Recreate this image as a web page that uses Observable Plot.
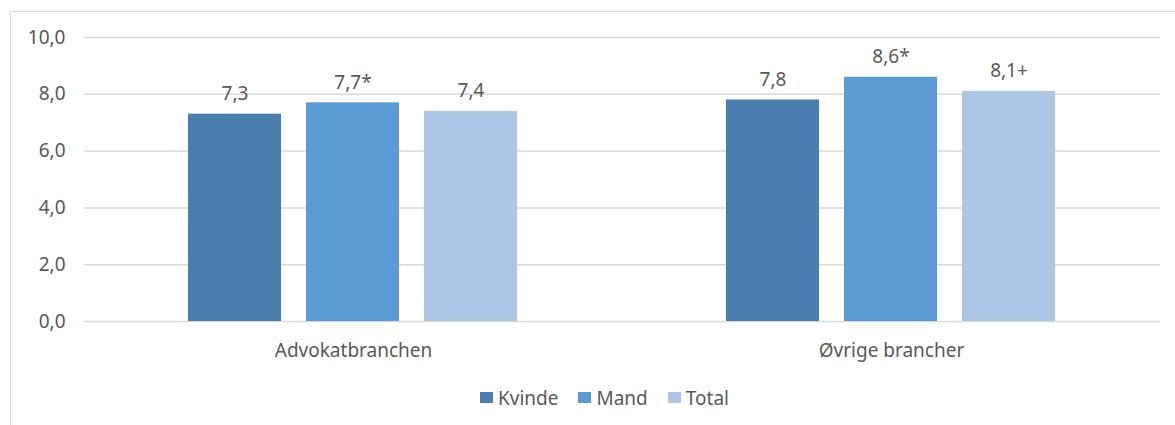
<!DOCTYPE html>
<html>
<head>
<meta charset="utf-8">
<script src="https://cdn.jsdelivr.net/npm/d3@7"></script>
<script src="https://cdn.jsdelivr.net/npm/@observablehq/plot@0.6"></script>
<style>
  html, body { margin: 0; padding: 0; background: #fff; }
  body { width: 1175px; height: 425px; overflow: hidden; position: relative; font-family: "Noto Sans", sans-serif; }
  #frame { position: absolute; left: 10px; top: 11px; width: 1200px; height: 500px; border: 1.5px solid #d9d9d9; box-sizing: border-box; }
  #chart { position: absolute; left: 0; top: 0; }
  #legend { position: absolute; left: 480px; top: 381px; width: 400px; }
  #legend span > svg { margin-right: 5px !important; }
  #legend span { margin-right: 20px !important; }
</style>
</head>
<body>
<div id="frame"></div>
<div id="chart"></div>
<div id="legend"></div>
<script>
const groups = ["Advokatbranchen", "Øvrige brancher"];
const series = ["Kvinde", "Mand", "Total"];
const kvinde = [7.3, 7.8];
const mand = [7.7, 8.6];
const total = [7.4, 8.1];
const kvindeNote = ["", ""];
const mandNote = ["*", "*"];
const totalNote = ["", "+"];
const colors = ["#4a7eae", "#5b9bd5", "#adc6e6"];
const yTicks = [0, 2, 4, 6, 8, 10];

const fmt = v => d3.format(".1f")(v).replace(".", ",");
const vals = [kvinde, mand, total];
const notes = [kvindeNote, mandNote, totalNote];
const data = groups.flatMap((g, i) => series.map((s, j) => ({
  group: g, series: s, value: vals[j][i], label: fmt(vals[j][i]) + notes[j][i]
})));

const chart = Plot.plot({
  width: 1175,
  height: 380,
  marginLeft: 84,
  marginRight: 15,
  marginTop: 37,
  marginBottom: 59,
  style: { fontSize: "19px", fontFamily: "Noto Sans", color: "#595959", background: "transparent" },
  facet: { data: data, x: "group", label: null },
  fx: { domain: groups, padding: 0, label: null, tickSize: 0, tickPadding: 22 },
  x: { domain: series, paddingInner: 0.21, paddingOuter: 0.866, axis: null },
  y: { domain: [0, 10], ticks: yTicks, tickFormat: fmt, tickSize: 0, tickPadding: 19, label: null },
  color: { domain: series, range: colors },
  marks: [
    Plot.ruleY(yTicks, { stroke: "#d9d9d9", strokeWidth: 1.5, facet: false }),
    Plot.barY(data, { x: "series", y: "value", fill: "series" }),
    Plot.text(data, { x: "series", y: "value", text: "label", dy: -14, lineAnchor: "bottom", fill: "#595959", fontSize: 19 })
  ]
});
document.getElementById("chart").appendChild(chart);

const legend = Plot.legend({
  color: { domain: series, range: colors },
  swatchWidth: 13,
  swatchHeight: 11,
  style: { fontSize: "19px", fontFamily: "Noto Sans", color: "#595959" }
});
document.getElementById("legend").appendChild(legend);
</script>
</body>
</html>
